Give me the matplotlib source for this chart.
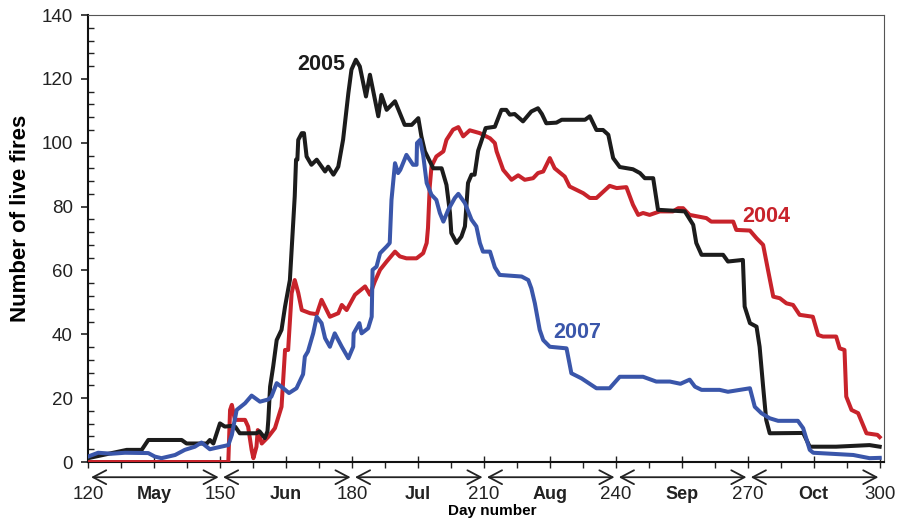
import matplotlib
matplotlib.use("Agg")
import matplotlib.pyplot as plt
from matplotlib.ticker import MultipleLocator

plt.rcParams['font.family'] = ['Liberation Sans', 'DejaVu Sans']

# ---- data (day number, number of live fires) ----
days_2005 = [120, 128.8, 132.2, 133.7, 141.3, 142.4, 147, 147.7, 148.5, 150, 151.1, 152.7, 153.5, 154.5,
             158.3, 159, 160.2, 160.8, 161, 161.4, 162.1, 162.9, 164, 164.8, 165.9, 167, 167.3, 167.6,
             167.8, 168.6, 169.1, 169.7, 170.8, 172, 173.9, 174.6, 175.8, 176.9, 178, 179.2, 179.9,
             180.9, 181.8, 183.2, 184.1, 186, 186.7, 187.9, 189.8, 192, 193.6, 195.1, 195.8, 196.6,
             198.5, 200.4, 201.5, 202.3, 202.6, 203.8, 204.9, 205.7, 206.4, 207.2, 207.9, 208.7, 209.8,
             210.4, 212.5, 214, 215.1, 215.9, 217, 218.9, 220.8, 222.3, 223.2, 224.2, 226.5, 227.7, 233,
             234.1, 235.6, 237.1, 238.3, 239.4, 240.9, 243.9, 245.5, 246.6, 248.5, 249.6, 255.7, 257.6,
             258.3, 259.5, 264.4, 265.5, 268.9, 269.3, 270.5, 272, 272.7, 273.5, 274.2, 275, 282.6,
             284.1, 290.1, 297.7, 300]
fires_2005 = [1.2, 3.8, 3.8, 6.9, 6.9, 5.8, 5.8, 6.9, 5.8, 12.1, 11.1, 11.3, 11, 9,
              9, 9.6, 7.5, 9.6, 13.2, 23.6, 29.9, 38.2, 41.4, 48.7, 57, 83.2, 94.7, 94.7,
              100.9, 103, 103, 95.7, 93.1, 94.7, 91, 92.5, 90, 92.5, 101, 115.6, 122.9,
              126, 123.9, 114.5, 121.3, 108.3, 115, 110.3, 113, 105.6, 105.6, 107.7, 102, 97.3,
              92, 92, 86.8, 78, 71.7, 68.6, 70.6, 73.8, 87.4, 90, 90, 97.5, 102,
              104.6, 105, 110.3, 110.3, 108.8, 109, 106.7, 109.8, 110.8, 109, 106.1, 106.3, 107.2, 107.2,
              108.3, 104, 104, 102.5, 95.2, 92.4, 91.7, 90.5, 88.9, 88.9, 79, 78.5, 74.3,
              68.6, 64.9, 64.9, 62.8, 63.3, 48.7, 43.5, 42.4, 36.1, 23.6, 13.2, 9, 9.1,
              4.8, 4.8, 5.3, 4.8]

days_2004 = [120, 151.9, 152.3, 152.7, 153.4, 155.7, 156.4, 157.2, 157.6, 158.3, 158.6, 159.5, 161,
             162.5, 164, 164.8, 165.5, 166.3, 167, 167.8, 168.6, 170.5, 172, 173.1, 175, 176.9, 177.7,
             178.8, 180.7, 183, 184.1, 185.2, 186.4, 187.9, 189.8, 190.9, 192.4, 194.7, 196.2, 197,
             197.3, 197.7, 198.1, 199.2, 200.8, 201.5, 203, 204.2, 205.3, 206.8, 209.1, 211.4, 212.5,
             212.9, 214.4, 216.3, 217.8, 219.3, 221.2, 222.3, 223.5, 225, 226.1, 228.4, 229.5, 232.6,
             234.1, 235.6, 238.6, 240.2, 242.4, 243.9, 245.1, 246.2, 247.7, 250, 253, 254.2, 255.3,
             256.8, 258.7, 260.6, 261.7, 266.7, 267.4, 270.5, 272, 273.5, 274.6, 275.8, 277.3, 278.8,
             280.3, 281.8, 284.8, 286, 287.1, 290.1, 290.9, 292, 292.4, 293.6, 295.1, 297, 299.5, 300]
fires_2004 = [0, 0, 16.3, 17.9, 13.2, 13.2, 11.1, 3.8, 1.2, 4.8, 10, 5.8, 7.9,
              10.6, 17.3, 35.1, 35.1, 52.9, 57, 53, 47.6, 46.6, 46.3, 50.8, 45.5, 46.6, 49.2,
              47.6, 52.4, 55, 52.4, 56.5, 60.2, 62.8, 65.9, 64.4, 63.8, 63.8, 65.4, 68.6,
              73.3, 86.3, 92.6, 95.7, 97.3, 100.9, 104.1, 104.9, 102, 103.9, 103, 101.4, 99.9,
              97.3, 91.5, 88.4, 89.8, 88.4, 88.9, 90.5, 91, 95.2, 92, 89.4, 86.3, 84.2,
              82.7, 82.7, 86.5, 85.8, 86.1, 80.6, 77.4, 78, 77.4, 78.5, 78.5, 79.5, 79.5,
              77.4, 76.9, 76.4, 75.3, 75.3, 72.7, 72.5, 70.1, 68, 60.2, 51.8, 51.3, 49.7,
              49.2, 46.1, 45.5, 39.8, 39.3, 39.3, 35.6, 35.1, 20.5, 16.3, 15.3, 9, 8.5, 7.8]

days_2007 = [120, 122.3, 125.4, 128.4, 133.7, 135.2, 136.7, 139.8, 142, 144.3, 145.8, 147.7, 149.6,
             151.9, 152.7, 153.8, 155.7, 157.2, 159.1, 161, 161.7, 162.9, 164.4, 165.7, 167.4, 168.9,
             169.3, 170, 171.2, 172, 173.1, 173.9, 175, 176.1, 177.7, 179.2, 180.3, 180.4, 181.7,
             182.2, 183.7, 184.5, 184.7, 185.6, 186.4, 187.9, 188.6, 189, 189.8, 190.5, 191, 192.4,
             193.9, 194.7, 194.8, 195.5, 196.2, 197, 198.1, 199.2, 200, 200.8, 201.9, 203.4, 204.2,
             205.7, 207.2, 208.3, 209.1, 209.8, 211.4, 212.5, 213.6, 218.6, 220.1, 220.8, 221.6,
             222.7, 223.5, 225, 228.8, 229.9, 232.2, 235.6, 238.6, 240.9, 246.2, 249.2, 252.3, 254.7,
             256.8, 258, 259.5, 263.6, 265.5, 270.5, 271.6, 273.1, 275, 276.9, 281.4, 282.6, 284.1,
             284.9, 294, 297.7, 300]
fires_2007 = [1.7, 2.9, 2.6, 2.9, 2.8, 1.7, 1.2, 2.2, 3.8, 4.8, 6.1, 4, 4.6,
              5.3, 8.5, 16.3, 18.4, 20.8, 18.9, 19.6, 20.5, 24.7, 23.1, 21.6, 23.1, 27.5,
              33, 34.6, 40.3, 45.5, 43.5, 38.8, 36.1, 40.3, 36.1, 32.5, 36.1, 40.3, 43.5,
              40.3, 41.9, 45.5, 60.2, 61.2, 65.4, 67.5, 68.6, 82.1, 93.6, 90.5, 91.5, 96.2,
              93.1, 93.1, 99.9, 100.9, 96.2, 87.4, 83.7, 82.1, 78, 75.3, 79, 82.7, 84,
              81.1, 75.9, 73.8, 68.6, 65.9, 65.9, 61, 58.6, 58.1, 57, 54.4, 49.7,
              41.4, 38.2, 36.1, 35.6, 27.8, 26.2, 23.1, 23.1, 26.7, 26.7, 25.2, 25.2, 24.5,
              25.8, 23.6, 22.6, 22.6, 22, 23.1, 17.3, 15.3, 13.7, 12.9, 12.9, 10.6, 3.8,
              2.9, 2.2, 1.2, 1.3]

month_names = ['May', 'Jun', 'Jul', 'Aug', 'Sep', 'Oct']
month_starts = [120, 150, 180, 210, 240, 270, 300]
series_labels = ['2004', '2005', '2007']

c_black = '#1c1c1c'
c_red = '#c8232b'
c_blue = '#3a56aa'

fig = plt.figure(figsize=(8.99, 5.19), dpi=100)
ax = fig.add_axes([0.0979, 0.1098, 0.8855, 0.8612])

ax.plot(days_2004, fires_2004, color=c_red, lw=2.9, solid_joinstyle='round', zorder=3)
ax.plot(days_2005, fires_2005, color=c_black, lw=2.9, solid_joinstyle='round', zorder=4)
ax.plot(days_2007, fires_2007, color=c_blue, lw=2.9, solid_joinstyle='round', zorder=5)

ax.text(173, 124.5, series_labels[1], color=c_black, fontsize=15.5, fontweight='bold', ha='center', va='center')
ax.text(274.3, 76.8, series_labels[0], color=c_red, fontsize=15.5, fontweight='bold', ha='center', va='center')
ax.text(231.3, 40.7, series_labels[2], color=c_blue, fontsize=15.5, fontweight='bold', ha='center', va='center')

ax.set_xlim(120, 301)
ax.set_ylim(0, 140)

# y axis ticks
ax.yaxis.set_major_locator(MultipleLocator(20))
ax.yaxis.set_minor_locator(MultipleLocator(4))
ax.tick_params(axis='y', which='major', direction='out', length=5, width=1.2, labelsize=13.5, pad=6, colors='#222222')
ax.tick_params(axis='y', which='minor', direction='in', length=4, width=1.0, colors='#222222')

# x axis ticks: labels at month boundaries and month names in between
xt = []
xl = []
for i, d in enumerate(month_starts):
    xt.append(d)
    xl.append(str(d))
    if i < len(month_names):
        xt.append(d + 15)
        xl.append(month_names[i])
ax.set_xticks(xt)
ax.set_xticklabels(xl)
ax.xaxis.set_minor_locator(MultipleLocator(7.5))
ax.tick_params(axis='x', which='major', direction='inout', length=9, width=1.0, labelsize=13.5, pad=12.5, colors='#222222')
ax.tick_params(axis='x', which='minor', direction='out', length=4, width=1.0, colors='#222222')
for lab in ax.get_xticklabels():
    if lab.get_text() in month_names:
        lab.set_fontweight('bold')
        lab.set_fontsize(13)

for s in ['left', 'bottom']:
    ax.spines[s].set_linewidth(1.5)
    ax.spines[s].set_color('#111111')
for s in ['top', 'right']:
    ax.spines[s].set_linewidth(0.8)
    ax.spines[s].set_color('#555555')

# month arrows
for a, b in zip(month_starts[:-1], month_starts[1:]):
    ax.annotate('', xy=(b - 0.3, -0.034), xytext=(a + 0.7, -0.034),
                xycoords=('data', 'axes fraction'), textcoords=('data', 'axes fraction'),
                arrowprops=dict(arrowstyle='<->,head_length=0.95,head_width=0.5', lw=1.3,
                                color='#222222', shrinkA=0, shrinkB=0),
                annotation_clip=False)

ax.set_xlabel('Day number', fontsize=11, fontweight='bold')
ax.xaxis.set_label_coords(0.508, -0.093)
ax.set_ylabel('Number of live fires', fontsize=16, fontweight='bold', va='center', ha='center')
ax.yaxis.set_label_coords(-0.0854, 0.546)

fig.savefig('out.png', dpi=100)
